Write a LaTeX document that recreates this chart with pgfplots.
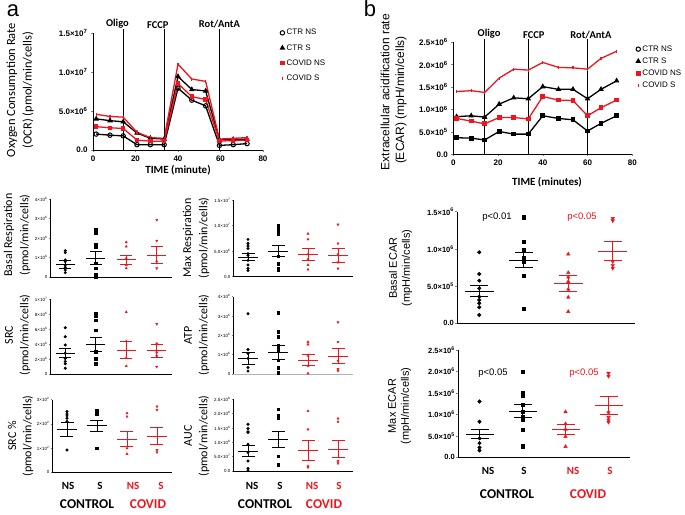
\documentclass[border=0pt]{standalone}
\usepackage{pgfplots}
\pgfplotsset{compat=1.18}
\usepackage{fontspec}
\setmainfont{Liberation Sans}
\newfontfamily\calib{Carlito}
\definecolor{cred}{RGB}{240,20,30}
\newcommand\fs[1]{\fontsize{#1}{#1}\selectfont}
\newcommand\sx[2]{#1×10\textsuperscript{#2}}
\newcommand\twolab[3]{%
  \node[rotate=90, font=\calib\fs{12}] at (#1pt,#2pt) {#3};
  \node[rotate=90, font=\calib\fs{12}] at (#1pt+16pt,#2pt) {(pmol/min/cells)};}

\pgfplotsset{
  dots/.style={scale only axis, anchor=south west, clip=false,
    axis x line*=bottom, axis y line*=left,
    axis line style={-, line width=0.6pt},
    xmin=0.5, xmax=4.5, ymin=0, xtick=\empty,
    tick align=outside, major tick length=1.5pt,
    ytick style={line width=0.5pt},
    yticklabel style={font=\fs{4.5}, inner sep=1pt}},
  pts/.style={only marks, mark size=1.3pt},
  avg/.style 2 args={only marks, mark=-, mark size=#1, mark options={line width=0.8pt},
    error bars/y dir=both, error bars/y explicit,
    error bars/error bar style={line width=0.8pt},
    error bars/error mark options={rotate=90, mark size=#2, line width=0.8pt}},
  seahorse/.style={scale only axis, anchor=south west, clip=false,
    axis x line*=bottom, axis y line*=left, axis line style={-, line width=0.7pt},
    xmin=0, xmax=80, ymin=0,
    xtick={0,20,40,60,80}, xticklabels={0,20,40,60,80},
    tick align=outside, major tick length=2pt, tick style={line width=0.6pt},
    tick label style={font=\bfseries\fs{8}}},
}

\begin{document}
\begin{tikzpicture}
\useasboundingbox (0,0) rectangle (685pt,514pt);

% ---------- a: OCR time course ----------
\begin{axis}[seahorse, at={(93pt,364pt)}, width=170pt, height=117pt, ymax=15,
  ytick={0,5,10,15}, yticklabels={0.0,\sx{5.0}{6},\sx{1.0}{7},\sx{1.5}{7}},
  legend style={draw=none, fill=none, at={(1.1,1.05)}, anchor=north west,
    font=\fs{8}, row sep=4pt, inner sep=0pt, cells={anchor=west}},
  legend image code/.code={\draw[#1, only marks] plot coordinates {(0.15cm,0cm)};}]
\addplot[black, line width=1.3pt, mark=o, mark size=2.2pt, mark options={line width=1pt}] coordinates {
 (1.5,2.04) (8,1.90) (14.2,1.81) (20.7,0.68) (27,0.68) (33.5,0.68)
 (40,7.93) (46.5,6.39) (53,5.66) (59.5,0.59) (66,0.68) (72.5,0.82)};
\addplot[black, line width=1.3pt, mark=triangle*, mark size=2pt] coordinates {
 (1.5,3.99) (8,3.76) (14.2,3.62) (20.7,2.17) (27,1.50) (33.5,1.40)
 (40,9.42) (46.5,7.75) (53,7.57) (59.5,1.31) (66,1.36) (72.5,1.40)};
\addplot[cred, line width=1.3pt, mark=square*, mark size=1.6pt] coordinates {
 (1.5,2.99) (8,2.85) (14.2,2.76) (20.7,1.27) (27,1.13) (33.5,1.13)
 (40,8.52) (46.5,6.84) (53,6.48) (59.5,1.13) (66,1.22) (72.5,1.27)};
\addplot[cred, line width=1.3pt, mark=|, mark size=1.5pt] coordinates {
 (1.5,4.58) (8,4.30) (14.2,4.21) (20.7,2.27) (27,1.59) (33.5,1.50)
 (40,11.0) (46.5,9.1) (53,8.8) (59.5,1.40) (66,1.50) (72.5,1.59)};
\legend{CTR NS, CTR S, COVID NS, COVID S}
\draw[line width=0.8pt] (axis cs:14.2,0) -- (axis cs:14.2,15.5);
\draw[line width=0.8pt] (axis cs:33.5,0) -- (axis cs:33.5,15.5);
\draw[line width=0.8pt] (axis cs:59.5,0) -- (axis cs:59.5,15.5);
\node[anchor=south, inner sep=0pt, font=\calib\bfseries\fs{10.5}] at (axis cs:11.5,15.6) {Oligo};
\node[anchor=south, inner sep=0pt, font=\calib\bfseries\fs{10.5}] at (axis cs:30.5,15.6) {FCCP};
\node[anchor=south, inner sep=0pt, font=\calib\bfseries\fs{10.5}] at (axis cs:59.5,15.6) {Rot/AntA};
\end{axis}

% ---------- b: ECAR time course ----------
\begin{axis}[seahorse, at={(453.3pt,359.7pt)}, width=179pt, height=112pt, ymax=2.5,
  ytick={0,0.5,1,1.5,2,2.5},
  yticklabels={0.0,\sx{5.0}{5},\sx{1.0}{6},\sx{1.5}{6},\sx{2.0}{6},\sx{2.5}{6}},
  legend style={draw=none, fill=none, at={(1.02,0.99)}, anchor=north west,
    font=\fs{8}, row sep=1pt, inner sep=0pt, cells={anchor=west}},
  legend image code/.code={\draw[#1, only marks] plot coordinates {(0.15cm,0cm)};}]
\addplot[black, line width=1.3pt, mark=square*, mark size=1.7pt,
  legend image code/.code={\draw[black, line width=1pt, mark=o, mark size=2.2pt, only marks] plot coordinates {(0.15cm,0cm)};}] coordinates {
 (1.5,0.37) (8,0.36) (14,0.32) (20.5,0.51) (27,0.45) (33.5,0.45)
 (40,0.86) (47,0.80) (53.5,0.77) (60,0.52) (66,0.69) (73,0.86)};
\addplot[black, line width=1.3pt, mark=triangle*, mark size=2pt] coordinates {
 (1.5,0.84) (8,0.86) (14,0.83) (20.5,1.12) (27,1.26) (33.5,1.24)
 (40,1.51) (47,1.45) (53.5,1.45) (60,1.24) (66,1.45) (73,1.64)};
\addplot[cred, line width=1.3pt, mark=square*, mark size=1.7pt] coordinates {
 (1.5,0.80) (8,0.74) (14,0.68) (20.5,0.82) (27,0.82) (33.5,0.79)
 (40,1.29) (47,1.21) (53.5,1.20) (60,0.86) (66,1.04) (73,1.21)};
\addplot[cred, line width=1.3pt, mark=|, mark size=1.5pt] coordinates {
 (1.5,1.40) (8,1.42) (14,1.38) (20.5,1.70) (27,1.90) (33.5,1.88)
 (40,2.05) (47,1.94) (53.5,1.93) (60,1.90) (66,2.14) (73,2.30)};
\legend{CTR NS, CTR S, COVID NS, COVID S}
\draw[line width=0.8pt] (axis cs:14,0) -- (axis cs:14,2.57);
\draw[line width=0.8pt] (axis cs:33.5,0) -- (axis cs:33.5,2.57);
\draw[line width=0.8pt] (axis cs:60,0) -- (axis cs:60,2.57);
\node[anchor=south, inner sep=0pt, font=\calib\bfseries\fs{10.5}] at (axis cs:16,2.58) {Oligo};
\node[anchor=south, inner sep=0pt, font=\calib\bfseries\fs{10.5}] at (axis cs:36,2.58) {FCCP};
\node[anchor=south, inner sep=0pt, font=\calib\bfseries\fs{10.5}] at (axis cs:61.5,2.58) {Rot/AntA};
\end{axis}

% ---------- Basal Respiration ----------
\begin{axis}[dots, at={(50pt,236.7pt)}, width=122pt, height=78.3pt, ymax=4,
  ytick={0,1,2,3,4}, yticklabels={0,\sx{1}{6},\sx{2}{6},\sx{3}{6},\sx{4}{6}}]
\addplot[pts, black, mark=*] coordinates {(1,1.36)(1,1.26)(1,0.89)(1,0.8)(1,0.63)(1,0.51)(1,0.37)(1,0.24)};
\addplot[pts, black, mark=square*] coordinates {(2,2.42)(2,2.25)(2,1.65)(2,1.57)(2,0.71)(2,0.46)(2,0.15)(2,0.03)};
\addplot[pts, cred, mark=triangle*] coordinates {(3,1.79)(3,1.57)(3,0.97)(3,0.63)(3,0.46)};
\addplot[pts, cred, mark=triangle*, mark options={rotate=180}] coordinates {(4,2.93)(4,1.87)(4,0.8)(4,0.46)};
\addplot[avg={9.5}{6}, black] coordinates {(1,0.68) +- (0,0.2)};
\addplot[avg={9.5}{6}, black] coordinates {(2,0.99) +- (0,0.31)};
\addplot[avg={9.5}{6}, cred] coordinates {(3,0.89) +- (0,0.25)};
\addplot[avg={9.5}{6}, cred] coordinates {(4,1.14) +- (0,0.42)};
\end{axis}

% ---------- Max Respiration ----------
\begin{axis}[dots, at={(233pt,237.3pt)}, width=120pt, height=76.7pt, ymax=15,
  ytick={0,5,10,15}, yticklabels={0.0,\sx{5.0}{6},\sx{1.0}{7},\sx{1.5}{7}}]
\addplot[pts, black, mark=*] coordinates {(1,7.3)(1,6.5)(1,6.0)(1,5.5)(1,4.5)(1,4.2)(1,3.2)(1,2.3)(1,1.6)(1,1.2)};
\addplot[pts, black, mark=square*] coordinates {(2,10.1)(2,9.4)(2,8.9)(2,8.4)(2,4.0)(2,2.5)(2,1.6)(2,1.3)};
\addplot[pts, cred, mark=triangle*] coordinates {(3,8.4)(3,7.3)(3,4.4)(3,3.4)(3,2.3)(3,1.4)};
\addplot[pts, cred, mark=triangle*, mark options={rotate=180}] coordinates {(4,10.2)(4,6.5)(4,4.4)(4,2.8)(4,1.6)};
\addplot[avg={10}{6.5}, black] coordinates {(1,3.8) +- (0,0.7)};
\addplot[avg={10}{6.5}, black] coordinates {(2,5.0) +- (0,1.1)};
\addplot[avg={10}{6.5}, cred] coordinates {(3,4.35) +- (0,1.2)};
\addplot[avg={10}{6.5}, cred] coordinates {(4,4.2) +- (0,1.35)};
\end{axis}

% ---------- SRC ----------
\begin{axis}[dots, at={(50pt,139.7pt)}, width=122pt, height=75pt, ymax=10,
  ytick={0,2,4,6,8,10}, yticklabels={0,\sx{2}{6},\sx{4}{6},\sx{6}{6},\sx{8}{6},\sx{1}{7}}]
\addplot[pts, black, mark=*] coordinates {(1,6.2)(1,5.0)(1,3.9)(1,2.8)(1,2.1)(1,1.7)(1,1.4)(1,0.8)};
\addplot[pts, black, mark=square*] coordinates {(2,8.1)(2,7.8)(2,7.2)(2,5.9)(2,3.0)(2,2.1)(2,1.4)};
\addplot[pts, cred, mark=triangle*] coordinates {(3,8.3)(3,4.4)(3,2.2)(3,1.1)};
\addplot[pts, cred, mark=triangle*, mark options={rotate=180}] coordinates {(4,6.7)(4,4.1)(4,2.9)(4,2.4)(4,1.0)};
\addplot[avg={9.5}{6}, black] coordinates {(1,2.8) +- (0,0.6)};
\addplot[avg={9.5}{6}, black] coordinates {(2,4.0) +- (0,0.9)};
\addplot[avg={9.5}{6}, cred] coordinates {(3,3.25) +- (0,1.15)};
\addplot[avg={9.5}{6}, cred] coordinates {(4,3.15) +- (0,0.85)};
\end{axis}

% ---------- ATP ----------
\begin{axis}[dots, at={(233pt,140pt)}, width=120pt, height=77.3pt, ymax=4,
  x axis line style={gray!60},
  ytick={0,1,2,3,4}, yticklabels={0,\sx{1}{6},\sx{2}{6},\sx{3}{6},\sx{4}{6}}]
\addplot[pts, black, mark=*] coordinates {(1,3.12)(1,1.27)(1,1.06)(1,0.81)(1,0.34)(1,0.15)};
\addplot[pts, black, mark=square*] coordinates {(2,3.17)(2,2.18)(2,1.92)(2,1.49)(2,1.37)(2,1.18)(2,0.72)(2,0.34)(2,0.07)};
\addplot[pts, cred, mark=triangle*] coordinates {(3,1.66)(3,1.53)(3,0.94)(3,0.41)(3,0.03)};
\addplot[pts, cred, mark=triangle*, mark options={rotate=180}] coordinates {(4,2.68)(4,1.66)(4,0.69)(4,0.26)(4,0.17)};
\addplot[avg={10}{6.5}, black] coordinates {(1,0.82) +- (0,0.3)};
\addplot[avg={10}{6.5}, black] coordinates {(2,1.1) +- (0,0.37)};
\addplot[avg={10}{6.5}, cred] coordinates {(3,0.72) +- (0,0.28)};
\addplot[avg={10}{6.5}, cred] coordinates {(4,0.93) +- (0,0.38)};
\end{axis}

% ---------- SRC % ----------
\begin{axis}[dots, at={(52pt,41.7pt)}, width=120pt, height=72.6pt, ymax=3,
  ytick={0,1,2,3}, yticklabels={0,\sx{1}{2},\sx{2}{2},\sx{3}{2}}]
\addplot[pts, black, mark=*] coordinates {(1,2.51)(1,2.41)(1,2.33)(1,2.23)(1,2.10)(1,0.92)};
\addplot[pts, black, mark=square*] coordinates {(2,2.55)(2,2.41)(2,0.99)};
\addplot[pts, cred, mark=triangle*] coordinates {(3,2.44)(3,2.30)(3,0.99)(3,0.76)};
\addplot[pts, cred, mark=triangle*, mark options={rotate=180}] coordinates {(4,2.72)(4,2.58)(4,0.92)(4,0.83)};
\addplot[avg={10}{6.5}, black] coordinates {(1,1.78) +- (0,0.28)};
\addplot[avg={10}{6.5}, black] coordinates {(2,1.92) +- (0,0.24)};
\addplot[avg={10}{6.5}, cred] coordinates {(3,1.37) +- (0,0.32)};
\addplot[avg={10}{6.5}, cred] coordinates {(4,1.50) +- (0,0.36)};
\end{axis}

% ---------- AUC ----------
\begin{axis}[dots, at={(233pt,43pt)}, width=120pt, height=71.7pt, ymax=2.5,
  ytick={0,0.5,1,1.5,2,2.5},
  yticklabels={0.0,\sx{5.0}{7},\sx{1.0}{8},\sx{1.5}{8},\sx{2.0}{8},\sx{2.5}{8}}]
\addplot[pts, black, mark=*] coordinates {(1,1.63)(1,1.48)(1,1.37)(1,1.34)(1,0.93)(1,0.64)(1,0.35)(1,0.09)(1,0.03)};
\addplot[pts, black, mark=square*] coordinates {(2,2.15)(2,1.92)(2,1.84)(2,0.52)(2,0.23)(2,0.20)};
\addplot[pts, cred, mark=triangle*] coordinates {(3,2.09)(3,1.45)(3,0.17)(3,0.12)};
\addplot[pts, cred, mark=triangle*, mark options={rotate=180}] coordinates {(4,1.83)(4,1.72)(4,0.35)(4,0.27)};
\addplot[avg={10}{6.5}, black] coordinates {(1,0.70) +- (0,0.2)};
\addplot[avg={10}{6.5}, black] coordinates {(2,1.10) +- (0,0.27)};
\addplot[avg={10}{6.5}, cred] coordinates {(3,0.73) +- (0,0.35)};
\addplot[avg={10}{6.5}, cred] coordinates {(4,0.76) +- (0,0.3)};
\end{axis}

% ---------- Basal ECAR ----------
\begin{axis}[dots, at={(457pt,190.7pt)}, width=178pt, height=111.6pt, ymax=1.5,
  major tick length=2pt, axis line style={-, line width=0.7pt},
  yticklabel style={font=\bfseries\fs{7.5}},
  ytick={0,0.5,1,1.5}, yticklabels={0.0,\sx{5.0}{5},\sx{1.0}{6},\sx{1.5}{6}}]
\addplot[pts, black, mark=*, mark size=1.8pt] coordinates {(1,0.954)(1,0.663)(1,0.573)(1,0.47)(1,0.358)(1,0.313)(1,0.269)(1,0.215)(1,0.112)};
\addplot[pts, black, mark=square*, mark size=1.7pt] coordinates {(2,1.424)(2,1.097)(2,0.985)(2,0.873)(2,0.837)(2,0.636)(2,0.2)};
\addplot[pts, cred, mark=triangle*, mark size=2pt] coordinates {(3,0.93)(3,0.68)(3,0.62)(3,0.56)(3,0.457)(3,0.35)(3,0.157)};
\addplot[pts, cred, mark=triangle*, mark size=2pt, mark options={rotate=180}] coordinates {(4,1.41)(4,1.38)(4,0.83)(4,0.78)(4,0.74)};
\addplot[avg={14.5}{9}, black] coordinates {(1,0.434) +- (0,0.075)};
\addplot[avg={14.5}{9}, black] coordinates {(2,0.85) +- (0,0.1)};
\addplot[avg={14.5}{9}, cred] coordinates {(3,0.537) +- (0,0.11)};
\addplot[avg={14.5}{9}, cred] coordinates {(4,0.97) +- (0,0.13)};
\end{axis}

% ---------- Max ECAR ----------
\begin{axis}[dots, at={(458pt,56.7pt)}, width=172pt, height=107.3pt, ymax=2.5,
  major tick length=2pt, axis line style={-, line width=0.7pt},
  yticklabel style={font=\bfseries\fs{7.5}},
  ytick={0,0.5,1,1.5,2,2.5},
  yticklabels={0.0,\sx{5.0}{5},\sx{1.0}{6},\sx{1.5}{6},\sx{2.0}{6},\sx{2.5}{6}}]
\addplot[pts, black, mark=*, mark size=1.8pt] coordinates {(1,1.30)(1,0.83)(1,0.44)(1,0.33)(1,0.23)(1,0.16)};
\addplot[pts, black, mark=square*, mark size=1.7pt] coordinates {(2,2.0)(2,1.51)(2,1.45)(2,1.23)(2,1.06)(2,0.93)(2,0.89)(2,0.64)(2,0.26)};
\addplot[pts, cred, mark=triangle*, mark size=2pt] coordinates {(3,1.06)(3,0.78)(3,0.65)(3,0.48)(3,0.25)};
\addplot[pts, cred, mark=triangle*, mark size=2pt, mark options={rotate=180}] coordinates {(4,1.96)(4,1.89)(4,1.04)(4,0.93)(4,0.87)(4,0.82)};
\addplot[avg={14}{9}, black] coordinates {(1,0.54) +- (0,0.105)};
\addplot[avg={14}{9}, black] coordinates {(2,1.08) +- (0,0.16)};
\addplot[avg={14}{9}, cred] coordinates {(3,0.65) +- (0,0.115)};
\addplot[avg={14}{9}, cred] coordinates {(4,1.22) +- (0,0.21)};
\end{axis}

% ---------- titles and labels ----------
\node[anchor=base, font=\fs{22}] at (13pt,497pt) {a};
\node[anchor=base, font=\fs{22}] at (370pt,497pt) {b};

\node[rotate=90, font=\calib\fs{12.5}] at (12pt,424pt) {Oxygen Consumption Rate};
\node[rotate=90, font=\calib\fs{12.5}] at (28pt,424pt) {(OCR) (pmol/min/cells)};
\node[font=\calib\bfseries\fs{11}] at (178pt,344pt) {TIME (minute)};

\node[rotate=90, font=\fs{12}] at (385pt,422pt) {Extracellular acidification rate};
\node[rotate=90, font=\fs{12}] at (401pt,414pt) {(ECAR) (mpH/min/cells)};
\node[font=\calib\bfseries\fs{11}] at (547pt,332pt) {TIME (minutes)};

\twolab{9}{279}{Basal Respiration}
\twolab{188}{276}{Max Respiration}
\twolab{9}{179}{SRC}
\twolab{188}{179}{ATP}
\twolab{12}{78}{SRC \%}
\twolab{188}{78}{AUC}

\node[rotate=90, font=\fs{11}] at (393pt,246pt) {Basal ECAR};
\node[rotate=90, font=\fs{11}] at (407pt,246pt) {(mpH/min/cells)};
\node[rotate=90, font=\fs{11}] at (392pt,108pt) {Max ECAR};
\node[rotate=90, font=\fs{11}] at (406pt,108pt) {(mpH/min/cells)};

\node[font=\fs{9.5}] at (497pt,297pt) {p<0.01};
\node[font=\fs{9.5}, text=cred] at (582pt,297pt) {p<0.05};
\node[font=\fs{9.5}] at (493pt,141pt) {p<0.05};
\node[font=\fs{9.5}, text=cred] at (584pt,141pt) {p<0.05};

\begin{scope}[font=\calib\bfseries\fs{11}]
\node at (68pt,28pt) {NS}; \node at (100pt,28pt) {S};
\node[text=cred] at (133pt,28pt) {NS}; \node[text=cred] at (161pt,28pt) {S};
\node at (252pt,28pt) {NS}; \node at (280pt,28pt) {S};
\node[text=cred] at (312pt,28pt) {NS}; \node[text=cred] at (339pt,28pt) {S};
\node at (488pt,43pt) {NS}; \node at (524pt,43pt) {S};
\node[text=cred] at (573pt,43pt) {NS}; \node[text=cred] at (610pt,43pt) {S};
\end{scope}
\begin{scope}[font=\calib\bfseries\fs{13.5}]
\node at (87pt,10pt) {CONTROL}; \node[text=cred] at (148pt,10pt) {COVID};
\node at (265pt,10pt) {CONTROL}; \node[text=cred] at (324pt,10pt) {COVID};
\node at (507pt,20pt) {CONTROL}; \node[text=cred] at (588pt,20pt) {COVID};
\end{scope}
\end{tikzpicture}
\end{document}
